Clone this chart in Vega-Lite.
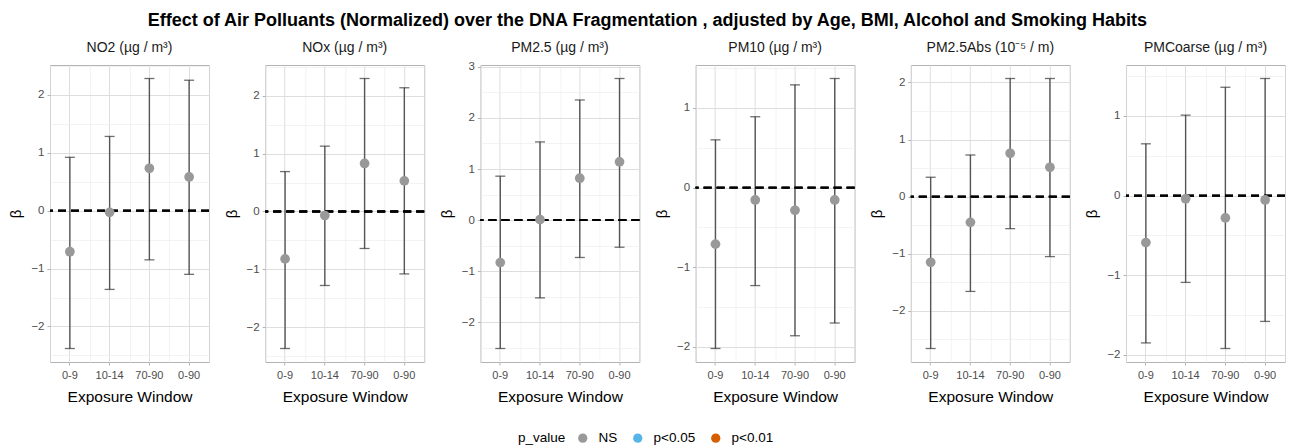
{
  "$schema": "https://vega.github.io/schema/vega-lite/v6.json",
  "padding": {"left": 8, "top": 12, "right": 3, "bottom": 5},
  "background": "white",
  "title": {
    "text": "Effect of Air Polluants (Normalized) over the  DNA Fragmentation , adjusted by Age, BMI, Alcohol and Smoking Habits",
    "fontSize": 18,
    "fontWeight": "bold",
    "font": "Liberation Sans",
    "color": "#000000",
    "anchor": "middle",
    "offset": 11
  },
  "data": {
    "values": [
      {"pollutant": "NO2 (µg / m³)", "window": "0-9", "beta": -0.71, "lower": -2.38, "upper": 0.92, "p_value": "NS"},
      {"pollutant": "NO2 (µg / m³)", "window": "10-14", "beta": -0.03, "lower": -1.36, "upper": 1.28, "p_value": "NS"},
      {"pollutant": "NO2 (µg / m³)", "window": "70-90", "beta": 0.73, "lower": -0.85, "upper": 2.28, "p_value": "NS"},
      {"pollutant": "NO2 (µg / m³)", "window": "0-90", "beta": 0.58, "lower": -1.10, "upper": 2.25, "p_value": "NS"},
      {"pollutant": "NOx (µg / m³)", "window": "0-9", "beta": -0.82, "lower": -2.37, "upper": 0.69, "p_value": "NS"},
      {"pollutant": "NOx (µg / m³)", "window": "10-14", "beta": -0.07, "lower": -1.28, "upper": 1.13, "p_value": "NS"},
      {"pollutant": "NOx (µg / m³)", "window": "70-90", "beta": 0.83, "lower": -0.64, "upper": 2.30, "p_value": "NS"},
      {"pollutant": "NOx (µg / m³)", "window": "0-90", "beta": 0.53, "lower": -1.08, "upper": 2.14, "p_value": "NS"},
      {"pollutant": "PM2.5 (µg / m³)", "window": "0-9", "beta": -0.83, "lower": -2.51, "upper": 0.86, "p_value": "NS"},
      {"pollutant": "PM2.5 (µg / m³)", "window": "10-14", "beta": 0.01, "lower": -1.52, "upper": 1.53, "p_value": "NS"},
      {"pollutant": "PM2.5 (µg / m³)", "window": "70-90", "beta": 0.82, "lower": -0.73, "upper": 2.35, "p_value": "NS"},
      {"pollutant": "PM2.5 (µg / m³)", "window": "0-90", "beta": 1.14, "lower": -0.53, "upper": 2.77, "p_value": "NS"},
      {"pollutant": "PM10 (µg / m³)", "window": "0-9", "beta": -0.71, "lower": -2.02, "upper": 0.60, "p_value": "NS"},
      {"pollutant": "PM10 (µg / m³)", "window": "10-14", "beta": -0.155, "lower": -1.23, "upper": 0.89, "p_value": "NS"},
      {"pollutant": "PM10 (µg / m³)", "window": "70-90", "beta": -0.285, "lower": -1.86, "upper": 1.29, "p_value": "NS"},
      {"pollutant": "PM10 (µg / m³)", "window": "0-90", "beta": -0.155, "lower": -1.70, "upper": 1.37, "p_value": "NS"},
      {"pollutant": "PM2.5Abs (10⁻⁵ / m)", "window": "0-9", "beta": -1.15, "lower": -2.66, "upper": 0.34, "p_value": "NS"},
      {"pollutant": "PM2.5Abs (10⁻⁵ / m)", "window": "10-14", "beta": -0.45, "lower": -1.66, "upper": 0.73, "p_value": "NS"},
      {"pollutant": "PM2.5Abs (10⁻⁵ / m)", "window": "70-90", "beta": 0.76, "lower": -0.56, "upper": 2.07, "p_value": "NS"},
      {"pollutant": "PM2.5Abs (10⁻⁵ / m)", "window": "0-90", "beta": 0.515, "lower": -1.05, "upper": 2.07, "p_value": "NS"},
      {"pollutant": "PMCoarse (µg / m³)", "window": "0-9", "beta": -0.59, "lower": -1.85, "upper": 0.65, "p_value": "NS"},
      {"pollutant": "PMCoarse (µg / m³)", "window": "10-14", "beta": -0.04, "lower": -1.09, "upper": 1.01, "p_value": "NS"},
      {"pollutant": "PMCoarse (µg / m³)", "window": "70-90", "beta": -0.28, "lower": -1.92, "upper": 1.36, "p_value": "NS"},
      {"pollutant": "PMCoarse (µg / m³)", "window": "0-90", "beta": -0.055, "lower": -1.58, "upper": 1.47, "p_value": "NS"}
    ]
  },
  "facet": {
    "column": {
      "field": "pollutant",
      "type": "nominal",
      "sort": ["NO2 (µg / m³)", "NOx (µg / m³)", "PM2.5 (µg / m³)", "PM10 (µg / m³)", "PM2.5Abs (10⁻⁵ / m)", "PMCoarse (µg / m³)"],
      "header": {
        "title": null,
        "labelFontSize": 14,
        "labelFont": "Liberation Sans",
        "labelColor": "#1a1a1a",
        "labelPadding": 10
      }
    }
  },
  "spacing": 56.2,
  "bounds": "flush",
  "resolve": {"scale": {"y": "independent"}},
  "spec": {
    "width": 159,
    "height": 297,
    "layer": [
      {
        "mark": {"type": "rule", "color": "#555555", "strokeWidth": 1.4},
        "encoding": {
          "x": {"field": "window", "type": "nominal", "sort": ["0-9", "10-14", "70-90", "0-90"],
                "scale": {"type": "band", "paddingInner": 0, "paddingOuter": 0},
                "axis": {"orient": "bottom", "tickBand": "extent", "labels": false, "ticks": false, "domain": false, "title": null, "grid": true, "gridColor": "#ebebeb", "gridWidth": 0.6}},
          "y": {"field": "lower", "type": "quantitative",
                "scale": {"zero": false, "nice": false, "padding": 13.5},
                "axis": {"orient": "left", "values": [-3.5, -2.5, -1.5, -0.5, 0.5, 1.5, 2.5, 3.5], "labels": false, "ticks": false, "domain": false, "title": null, "grid": true, "gridColor": "#ebebeb", "gridWidth": 0.6}},
          "y2": {"field": "upper"}
        }
      },
      {
        "mark": {"type": "tick", "color": "#333333", "thickness": 1.3, "size": 10, "orient": "horizontal"},
        "encoding": {
          "x": {"field": "window", "type": "nominal", "sort": ["0-9", "10-14", "70-90", "0-90"], "axis": null},
          "y": {"field": "lower", "type": "quantitative", "axis": null}
        }
      },
      {
        "mark": {"type": "tick", "color": "#333333", "thickness": 1.3, "size": 10, "orient": "horizontal"},
        "encoding": {
          "x": {"field": "window", "type": "nominal", "sort": ["0-9", "10-14", "70-90", "0-90"], "axis": null},
          "y": {"field": "upper", "type": "quantitative", "axis": null}
        }
      },
      {
        "mark": {"type": "rule", "color": "#000000", "strokeDash": [8, 5], "strokeWidth": 1.8},
        "encoding": {"y": {"datum": 0, "type": "quantitative", "axis": null}}
      },
      {
        "mark": {"type": "circle", "opacity": 1, "size": 95},
        "encoding": {
          "x": {"field": "window", "type": "nominal", "sort": ["0-9", "10-14", "70-90", "0-90"],
                "axis": {"orient": "bottom", "title": "Exposure Window", "titleFontSize": 15.5, "titleFont": "Liberation Sans", "titleFontWeight": "normal", "titleColor": "#000000", "titlePadding": 9,
                         "labelAngle": 0, "labelFontSize": 11, "labelFont": "Liberation Sans", "labelColor": "#4d4d4d", "labelPadding": 4,
                         "grid": true, "gridColor": "#dedede", "gridWidth": 1, "ticks": true, "tickColor": "#b3b3b3", "tickSize": 3, "domain": false}},
          "y": {"field": "beta", "type": "quantitative",
                "axis": {"orient": "left", "title": "β", "titleFontSize": 15, "titleFont": "Liberation Sans", "titleFontWeight": "normal", "titleColor": "#000000", "titlePadding": 7,
                         "values": [-3, -2, -1, 0, 1, 2, 3], "format": "d", "labelFontSize": 11.5, "labelFont": "Liberation Sans", "labelColor": "#4d4d4d", "labelPadding": 3,
                         "grid": true, "gridColor": "#dedede", "gridWidth": 1, "ticks": true, "tickColor": "#b3b3b3", "tickSize": 3, "domain": false}},
          "color": {"field": "p_value", "type": "nominal",
                    "scale": {"domain": ["NS", "p<0.05", "p<0.01"], "range": ["#999999", "#56B4E9", "#D55E00"]},
                    "legend": {"title": "p_value", "orient": "none", "legendX": 468, "legendY": 366, "direction": "horizontal", "titleOrient": "left", "titlePadding": 10, "titleFontSize": 13.5, "titleFont": "Liberation Sans", "titleFontWeight": "normal", "titleColor": "#000000",
                               "labelFontSize": 13.5, "labelFont": "Liberation Sans", "labelColor": "#000000", "labelOffset": 9, "symbolType": "circle", "symbolSize": 85, "symbolStrokeWidth": 0, "columnPadding": 13}}
        }
      }
    ],
    "resolve": {"axis": {"x": "independent", "y": "independent"}}
  },
  "config": {
    "view": {"stroke": "#b3b3b3", "strokeWidth": 1},
    "axis": {"gridColor": "#dedede"}
  }
}
